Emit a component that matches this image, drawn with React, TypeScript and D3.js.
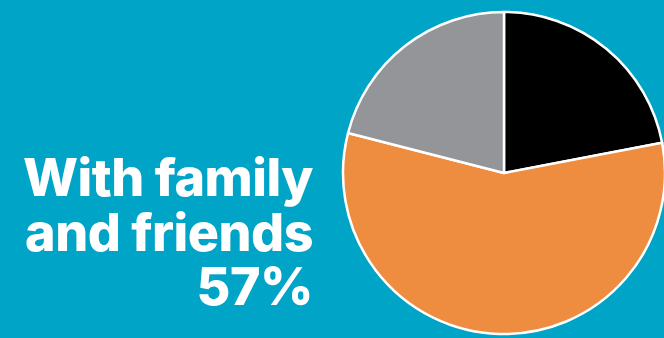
import React from "react";
import * as d3 from "d3";

const categories = ["Alone", "With family and friends", "Other"];
const values = [22, 57, 21];
const colors = ["#000000", "#EE8C3F", "#939598"];
const titleLines = ["With family", "and friends", "57%"];

const W = 664;
const H = 338;

export default function App() {
  const cx = 504;
  const cy = 173;
  const r = 161;
  const pie = d3.pie<number>().sort(null).value((d) => d);
  const arcs = pie(values);
  const arcGen = d3.arc<d3.PieArcDatum<number>>().innerRadius(0).outerRadius(r);
  const color = d3.scaleOrdinal<string, string>().domain(categories).range(colors);
  return (
    <div style={{ position: "fixed", left: 0, top: 0, width: W, height: H }}>
      <svg width={W} height={H} style={{ display: "block" }}>
        <rect x={0} y={0} width={W} height={H} fill="#00A4C7" />
        <g transform={`translate(${cx},${cy})`}>
          {arcs.map((a, i) => (
            <path
              key={categories[i]}
              d={arcGen(a) || ""}
              fill={color(categories[i])}
              stroke="#ffffff"
              strokeWidth={2.5}
              strokeLinejoin="round"
            />
          ))}
        </g>
        <g
          fontFamily="Inter, 'Noto Sans', sans-serif"
          fontWeight={800}
          fontSize={52}
          fill="#ffffff"
          textAnchor="end"
        >
          {titleLines.map((t, i) => (
            <text key={t} x={313} y={196 + i * 54.5} letterSpacing={-0.5}>
              {t}
            </text>
          ))}
        </g>
      </svg>
    </div>
  );
}
